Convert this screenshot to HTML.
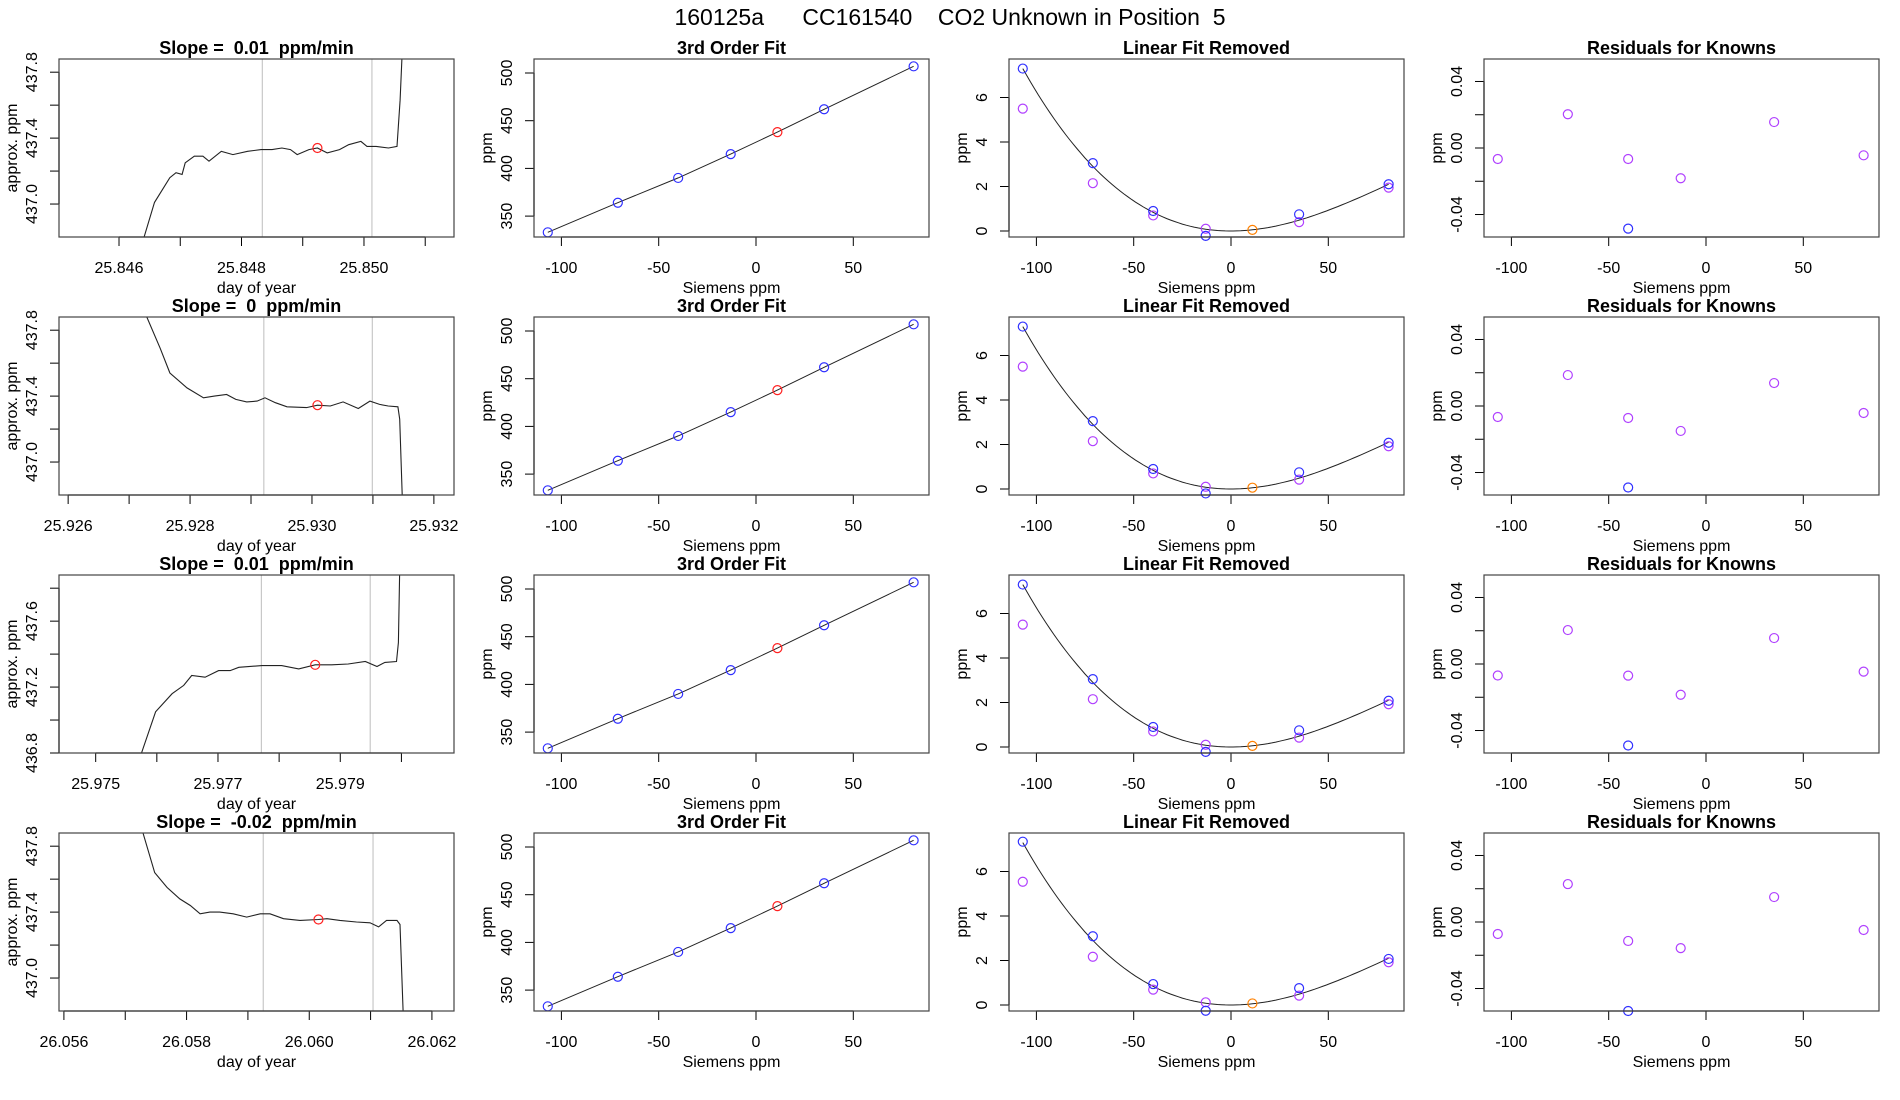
<!DOCTYPE html>
<html><head><meta charset="utf-8"><style>
html,body{margin:0;padding:0;background:#fff;}
svg{display:block;font-family:"Liberation Sans",Arial,sans-serif;}
</style></head><body>
<svg id="chart" width="1900" height="1100" viewBox="0 0 1900 1100" xmlns="http://www.w3.org/2000/svg">
<text x="950" y="25" text-anchor="middle" font-size="23" fill="#000" xml:space="preserve">160125a      CC161540    CO2 Unknown in Position  5</text>
</svg>
<script>
// ---- data: time series (panel 1 per row) ----
const ts1X = [25.84641,25.84658,25.84683,25.84693,25.84703,25.84708,25.84723,25.84737,25.84747,25.84767,25.84786,25.84810,25.84832,25.84850,25.84866,25.84880,25.84891,25.84910,25.84924,25.8494,25.84960,25.84975,25.84995,25.85005,25.85020,25.8504,25.85054,25.85059,25.85062];
const ts1Y = [436.8,437.01,437.16,437.19,437.18,437.25,437.29,437.29,437.26,437.32,437.30,437.32,437.33,437.33,437.34,437.33,437.30,437.33,437.34,437.31,437.33,437.36,437.38,437.35,437.35,437.34,437.35,437.63,437.88];
const ts2X = [25.92729,25.92751,25.92767,25.92795,25.92822,25.92840,25.9286,25.92875,25.92893,25.92910,25.92923,25.92940,25.92959,25.92991,25.93009,25.93030,25.93051,25.93076,25.93095,25.93111,25.93125,25.93141,25.93144,25.93148];
const ts2Y = [437.88,437.69,437.54,437.45,437.39,437.40,437.41,437.38,437.365,437.37,437.39,437.36,437.335,437.33,437.345,437.34,437.365,437.325,437.37,437.35,437.34,437.335,437.26,436.8];
const ts3X = [25.97575,25.97598,25.97625,25.97644,25.97657,25.97679,25.97701,25.97720,25.97734,25.97772,25.97804,25.97832,25.97859,25.97886,25.97913,25.97941,25.9796,25.97973,25.97992,25.97995,25.97997];
const ts3Y = [436.8,437.05,437.16,437.21,437.27,437.26,437.30,437.30,437.32,437.33,437.33,437.31,437.335,437.335,437.34,437.355,437.325,437.35,437.355,437.47,437.88];
const ts4X = [26.05729,26.05748,26.05768,26.05789,26.05806,26.05822,26.05838,26.05854,26.05876,26.05898,26.0592,26.05936,26.05958,26.05985,26.06015,26.06029,26.0605,26.06077,26.06099,26.06113,26.06126,26.06143,26.06148,26.06153];
const ts4Y = [437.88,437.64,437.55,437.48,437.44,437.39,437.40,437.40,437.39,437.37,437.39,437.39,437.36,437.35,437.355,437.36,437.35,437.34,437.335,437.31,437.35,437.35,437.325,436.8];
const redX = [25.84924,25.93009,25.97859,26.06015];
const redY = [437.34,437.345,437.335,437.355];
const grayA = [25.84834,25.92921,25.97771,26.05925];
const grayB = [25.85013,25.93099,25.97949,26.06104];
const slopeLabels = ["0.01","0","0.01","-0.02"];
const xLims = [[25.84502,25.85147],[25.92585,25.93233],[25.97440,25.98086],[26.05592,26.06236]];
const xTicks = [[25.846,25.847,25.848,25.849,25.850,25.851],[25.926,25.927,25.928,25.929,25.930,25.931,25.932],[25.975,25.976,25.977,25.978,25.979,25.980],[26.056,26.057,26.058,26.059,26.060,26.061,26.062]];
const xTickLabels = [["25.846","","25.848","","25.850",""],["25.926","","25.928","","25.930","","25.932"],["25.975","","25.977","","25.979",""],["26.056","","26.058","","26.060","","26.062"]];
const yTicks1 = [[437.0,437.2,437.4,437.6,437.8],[437.0,437.2,437.4,437.6,437.8],[436.8,437.0,437.2,437.4,437.6,437.8],[437.0,437.2,437.4,437.6,437.8]];
const yTickLabels1 = [["437.0","","437.4","","437.8"],["437.0","","437.4","","437.8"],["436.8","","437.2","","437.6",""],["437.0","","437.4","","437.8"]];
// ---- data: calibration ----
const siemens = [-107,-71,-40,-13,11,35,81];
const fitPpm = [333,364,390,415,438,462,507];
const linBlue = [[7.3,3.05,0.9,-0.22,0.05,0.75,2.1],[7.3,3.05,0.9,-0.2,0.06,0.75,2.08],[7.3,3.05,0.9,-0.22,0.05,0.75,2.08],[7.34,3.09,0.94,-0.26,0.07,0.76,2.07]];
const linPurple = [[5.5,2.15,0.7,0.1,null,0.4,1.95],[5.5,2.15,0.7,0.1,null,0.42,1.92],[5.5,2.15,0.7,0.1,null,0.42,1.92],[5.54,2.17,0.69,0.12,null,0.42,1.92]];
const curveA = 4.569e-4, curveC = -1.689e-6;
const resX = [-107,-71,-40,-13,35,81];
const resPurple = [[-0.0066,0.0203,-0.0066,-0.0182,0.0156,-0.0044],[-0.0066,0.0186,-0.0072,-0.015,0.0138,-0.0042],[-0.0069,0.0204,-0.007,-0.0185,0.0156,-0.0046],[-0.0072,0.0228,-0.0114,-0.0157,0.015,-0.0048]];
const resBlue = [-0.0485,-0.049,-0.049,-0.0535];

const NS = "http://www.w3.org/2000/svg";
const svg = document.getElementById('chart');
function mk(tag, attrs, parent, text){
  const e = document.createElementNS(NS, tag);
  for (const k in attrs) e.setAttribute(k, attrs[k]);
  if (text !== undefined) e.textContent = text;
  (parent||svg).appendChild(e);
  return e;
}
const colL = [59,534,1009,1484], W = 395, H = 178;
const rowT = [59,317,575,833];
const BOX = '#444';

function axes(g, L, T, sx, sy, xt, xtl, yt, ytl, xlab, ylab, title){
  const B = T + H;
  xt.forEach((v,i)=>{
    const x = sx(v);
    const t = mk('line',{x1:x,x2:x,y1:B,y2:B+9,stroke:'#000','stroke-width':1},g);
    
    
    if (xtl[i]) {
      const tl = mk('text',{x:x,y:B+36,'text-anchor':'middle','font-size':16},g,xtl[i]);
      
      
    }
  });
  const xa = mk('line',{x1:sx(xt[0]),x2:sx(xt[xt.length-1]),y1:B,y2:B,stroke:'#000','stroke-width':1.3},g);
  
  
  yt.forEach((v,i)=>{
    const y = sy(v);
    const t = mk('line',{x1:L-9,x2:L,y1:y,y2:y,stroke:'#000','stroke-width':1},g);
    
    
    if (ytl[i]) {
      const tl = mk('text',{x:0,y:0,'text-anchor':'middle','font-size':16,transform:`translate(${L-22},${y}) rotate(-90)`},g,ytl[i]);
      
      
    }
  });
  const ya = mk('line',{x1:L,x2:L,y1:sy(yt[0]),y2:sy(yt[yt.length-1]),stroke:'#000','stroke-width':1.3},g);
  
  
  const box = mk('rect',{x:L,y:T,width:W,height:H,fill:'none',stroke:BOX,'stroke-width':1.2},g);
  
  
  const xl = mk('text',{x:L+W/2,y:B+56,'text-anchor':'middle','font-size':16},g,xlab);
  
  
  const yl = mk('text',{x:0,y:0,'text-anchor':'middle','font-size':16,transform:`translate(${L-42},${T+H/2}) rotate(-90)`},g,ylab);
  
  
  const tt = mk('text',{x:L+W/2,y:T-5,'text-anchor':'middle','font-size':18,'font-weight':'bold'},g,title);
  tt.setAttributeNS('http://www.w3.org/XML/1998/namespace','xml:space','preserve');
  tt.setAttribute('style','white-space:pre');
  
  
}
function circ(g, x, y, color, name){
  const c = mk('circle',{cx:x,cy:y,r:4.5,fill:'none',stroke:color,'stroke-width':1.2},g);
  
  
}

const tsX = [ts1X,ts2X,ts3X,ts4X], tsY = [ts1Y,ts2Y,ts3Y,ts4Y];
for (let r=0;r<4;r++){
  const T = rowT[r];
  {
    const L = colL[0];
    const g = mk('g',{});
    
    
    const [x0,x1] = xLims[r];
    const sx = v => L + (v-x0)/(x1-x0)*W;
    const sy = v => T + H - (v-436.8)/(437.88-436.8)*H;
    const cid = 'clip'+r;
    const cp = mk('clipPath',{id:cid},g);
    mk('rect',{x:L,y:T,width:W,height:H},cp);
    [grayA[r],grayB[r]].forEach(v=>{
      const l = mk('line',{x1:sx(v),x2:sx(v),y1:T,y2:T+H,stroke:'#c8c8c8','stroke-width':1.2},g);
      
      
    });
    const pts = tsX[r].map((v,i)=>sx(v).toFixed(1)+','+sy(tsY[r][i]).toFixed(1)).join(' ');
    const pl = mk('polyline',{points:pts,fill:'none',stroke:'#222','stroke-width':1.1,'clip-path':`url(#${cid})`},g);
    
    
    circ(g, sx(redX[r]), sy(redY[r]), '#ff2020', 'mean-point');
    axes(g, L, T, sx, sy, xTicks[r], xTickLabels[r], yTicks1[r], yTickLabels1[r], 'day of year', 'approx. ppm', `Slope =  ${slopeLabels[r]}  ppm/min`);
  }
  const sxS = L => (v => L + 222 + v*1.946);
  const sTicks = [-100,-50,0,50], sLabels = ['-100','-50','0','50'];
  {
    const L = colL[1];
    const g = mk('g',{});
    
    
    const sx = sxS(L);
    const sy = v => T + 14 + (500-v)*0.954;
    const pts = siemens.map((v,i)=>sx(v).toFixed(1)+','+sy(fitPpm[i]).toFixed(1)).join(' ');
    const pl = mk('polyline',{points:pts,fill:'none',stroke:'#222','stroke-width':1},g);
    
    
    siemens.forEach((v,i)=>circ(g, sx(v), sy(fitPpm[i]), i===4?'#ff2020':'#3030ff', i===4?'unknown-point':'known-point'));
    axes(g, L, T, sx, sy, sTicks, sLabels, [350,400,450,500], ['350','400','450','500'], 'Siemens ppm', 'ppm', '3rd Order Fit');
  }
  {
    const L = colL[2];
    const g = mk('g',{});
    
    
    const sx = sxS(L);
    const sy = v => T + 172 - v*22.25;
    let c = [];
    for (let v=-107; v<=81; v+=2) c.push(sx(v).toFixed(1)+','+sy(curveA*v*v+curveC*v*v*v).toFixed(1));
    const pl = mk('polyline',{points:c.join(' '),fill:'none',stroke:'#222','stroke-width':1},g);
    
    
    siemens.forEach((v,i)=>{
      if (linPurple[r][i]!==null) circ(g, sx(v), sy(linPurple[r][i]), '#b040ff', 'purple-point');
    });
    siemens.forEach((v,i)=>circ(g, sx(v), sy(linBlue[r][i]), i===4?'#ff8000':'#3030ff', i===4?'unknown-point':'known-point'));
    axes(g, L, T, sx, sy, sTicks, sLabels, [0,2,4,6], ['0','2','4','6'], 'Siemens ppm', 'ppm', 'Linear Fit Removed');
  }
  {
    const L = colL[3];
    const g = mk('g',{});
    
    
    const sx = sxS(L);
    const sy = v => T + 89 - v*1663;
    resX.forEach((v,i)=>circ(g, sx(v), sy(resPurple[r][i]), '#b040ff', 'residual-point'));
    circ(g, sx(-40), sy(resBlue[r]), '#3030ff', 'blue-residual-point');
    axes(g, L, T, sx, sy, sTicks, sLabels, [-0.04,-0.02,0,0.02,0.04], ['-0.04','','0.00','','0.04'], 'Siemens ppm', 'ppm', 'Residuals for Knowns');
  }
}
</script>
</body></html>
